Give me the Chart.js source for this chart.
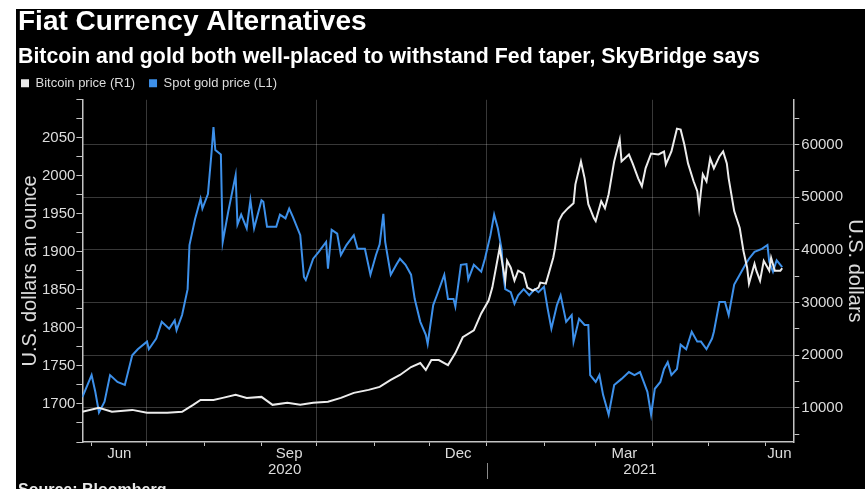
<!DOCTYPE html>
<html>
<head>
<meta charset="utf-8">
<title>Fiat Currency Alternatives</title>
<script src="https://cdn.jsdelivr.net/npm/chart.js@4.4.1/dist/chart.umd.min.js"></script>
<style>
  html, body { margin: 0; padding: 0; background: #fff; overflow: hidden; }
  body { width: 865px; height: 489px; position: relative; }
  #panel { position: absolute; left: 16px; top: 9px; width: 849px; height: 480px; background: #000; }
  #source { position: absolute; left: 18px; top: 482px; color: #e8e8e8; font: bold 16px 'Liberation Sans', Arial, sans-serif; line-height: 16px; }
</style>
</head>
<body>
<div id="panel"><canvas id="chart"></canvas></div>
<div id="source">Source: Bloomberg</div>
<script>
// Rango del eje X
const xStart = '2020-05-27';
const xEnd = '2021-06-16';

// Oro spot (USD por onza), eje izquierdo
const goldDates = [
  '2020-05-27','2020-06-01','2020-06-03','2020-06-05','2020-06-08','2020-06-11','2020-06-15','2020-06-19','2020-06-23','2020-06-26',
  '2020-07-01','2020-07-02','2020-07-06','2020-07-09','2020-07-13','2020-07-16','2020-07-17','2020-07-20','2020-07-23','2020-07-24',
  '2020-07-27','2020-07-30','2020-07-31','2020-08-03','2020-08-05','2020-08-06','2020-08-07','2020-08-10','2020-08-11','2020-08-14',
  '2020-08-18','2020-08-19','2020-08-21','2020-08-24','2020-08-26','2020-08-28','2020-09-01','2020-09-02','2020-09-04','2020-09-09',
  '2020-09-11','2020-09-14','2020-09-16','2020-09-18','2020-09-22','2020-09-24','2020-09-25','2020-09-29','2020-10-02','2020-10-06',
  '2020-10-07','2020-10-09','2020-10-12','2020-10-14','2020-10-17','2020-10-21','2020-10-23','2020-10-27','2020-10-30','2020-11-02',
  '2020-11-04','2020-11-06','2020-11-07','2020-11-10','2020-11-13','2020-11-15','2020-11-18','2020-11-21','2020-11-23','2020-11-26',
  '2020-11-29','2020-11-30','2020-12-03','2020-12-05','2020-12-09','2020-12-11','2020-12-14','2020-12-15','2020-12-18','2020-12-21',
  '2020-12-22','2020-12-25','2020-12-29','2020-12-31','2021-01-03','2021-01-05','2021-01-07','2021-01-09','2021-01-10','2021-01-11',
  '2021-01-14','2021-01-16','2021-01-18','2021-01-21','2021-01-24','2021-01-27','2021-01-29','2021-02-01','2021-02-03','2021-02-05',
  '2021-02-08','2021-02-10','2021-02-13','2021-02-16','2021-02-17','2021-02-20','2021-02-23','2021-02-25','2021-02-26','2021-03-01',
  '2021-03-03','2021-03-05','2021-03-08','2021-03-11','2021-03-15','2021-03-19','2021-03-22','2021-03-25','2021-03-27','2021-03-29',
  '2021-03-31','2021-04-02','2021-04-05','2021-04-07','2021-04-09','2021-04-11','2021-04-14','2021-04-16','2021-04-19','2021-04-22',
  '2021-04-25','2021-04-27','2021-04-30','2021-05-03','2021-05-04','2021-05-07','2021-05-10','2021-05-12','2021-05-15','2021-05-18',
  '2021-05-21','2021-05-23','2021-05-26','2021-05-30','2021-06-02','2021-06-03','2021-06-05','2021-06-07','2021-06-09','2021-06-10'
];
const goldPrice = [
  1709, 1738, 1716, 1689, 1703, 1738, 1729, 1725, 1764, 1772,
  1782, 1772, 1786, 1808, 1799, 1810, 1797, 1817, 1851, 1909,
  1943, 1970, 1957, 1976, 2032, 2064, 2034, 2028, 1913, 1953,
  2001, 1936, 1949, 1931, 1968, 1931, 1968, 1966, 1933, 1933,
  1949, 1944, 1957, 1946, 1922, 1867, 1863, 1891, 1900, 1913,
  1878, 1929, 1924, 1896, 1909, 1922, 1904, 1904, 1870, 1896,
  1910, 1950, 1913, 1870, 1883, 1891, 1883, 1870, 1838, 1808,
  1791, 1779, 1830, 1843, 1870, 1838, 1838, 1828, 1883, 1884,
  1864, 1883, 1874, 1891, 1922, 1949, 1931, 1904, 1870, 1851,
  1847, 1832, 1843, 1851, 1843, 1851, 1847, 1854, 1825, 1799,
  1830, 1843, 1808, 1817, 1782, 1812, 1804, 1804, 1738, 1729,
  1738, 1712, 1686, 1725, 1733, 1742, 1738, 1742, 1729, 1716,
  1686, 1720, 1729, 1746, 1755, 1738, 1746, 1778, 1772, 1795,
  1782, 1782, 1772, 1786, 1795, 1834, 1834, 1817, 1857, 1870,
  1883, 1891, 1900, 1904, 1909, 1887, 1874, 1889, 1883, 1880
];

// Bitcoin (USD), eje derecho
const btcDates = [
  '2020-05-27','2020-06-05','2020-06-12','2020-06-23','2020-07-01','2020-07-12','2020-07-20','2020-07-26','2020-07-30','2020-08-06',
  '2020-08-11','2020-08-18','2020-08-24','2020-09-01','2020-09-07','2020-09-15','2020-09-22','2020-09-29','2020-10-07','2020-10-14',
  '2020-10-21','2020-10-29','2020-11-04','2020-11-10','2020-11-15','2020-11-21','2020-11-26','2020-11-29','2020-12-02','2020-12-06',
  '2020-12-11','2020-12-15','2020-12-19','2020-12-25','2020-12-29','2021-01-02','2021-01-04','2021-01-07','2021-01-08','2021-01-11',
  '2021-01-12','2021-01-14','2021-01-16','2021-01-18','2021-01-21','2021-01-23','2021-01-26','2021-01-29','2021-01-30','2021-02-02',
  '2021-02-04','2021-02-06','2021-02-07','2021-02-09','2021-02-11','2021-02-14','2021-02-17','2021-02-18','2021-02-21','2021-02-23',
  '2021-02-25','2021-02-28','2021-03-01','2021-03-04','2021-03-06','2021-03-08','2021-03-11','2021-03-14','2021-03-15','2021-03-19',
  '2021-03-21','2021-03-24','2021-03-26','2021-03-28','2021-03-31','2021-04-04','2021-04-07','2021-04-08','2021-04-11','2021-04-14',
  '2021-04-16','2021-04-18','2021-04-20','2021-04-23','2021-04-25','2021-04-26','2021-04-28','2021-04-30','2021-05-02','2021-05-04',
  '2021-05-07','2021-05-09','2021-05-11','2021-05-12','2021-05-15','2021-05-18','2021-05-20','2021-05-22','2021-05-23','2021-05-26',
  '2021-05-27','2021-05-29','2021-05-31','2021-06-03','2021-06-04','2021-06-06','2021-06-09','2021-06-10'
];
const btcPrice = [
  9250, 10000, 9250, 9600, 9060, 9060, 9250, 10560, 11500, 11500,
  11880, 12450, 11880, 12070, 10560, 10940, 10560, 10940, 11130, 11880,
  12830, 13400, 13960, 15280, 16230, 17740, 18500, 17170, 19060, 19060,
  18110, 20380, 23400, 24720, 27920, 30380, 32830, 38490, 40380, 34150,
  37920, 36600, 34150, 36040, 35470, 32830, 32260, 32830, 33770, 33580,
  36040, 38490, 40380, 45470, 46790, 47920, 48870, 52450, 56790, 53580,
  48680, 46040, 45470, 49250, 47920, 50570, 56790, 60940, 56790, 58110,
  56420, 53580, 52080, 55470, 58300, 58110, 58680, 56230, 58680, 63020,
  62830, 60000, 56420, 53020, 51130, 47920, 54340, 53020, 57360, 55470,
  57740, 58680, 56420, 53580, 47360, 44150, 39810, 36600, 33580, 37360,
  36040, 34150, 37920, 36040, 38490, 36040, 36040, 36500
];

// Etiquetas de los ejes
const monthTicks = ['2020-06', '2020-09', '2020-12', '2021-03', '2021-06'];
const monthLabels = ['Jun', 'Sep', 'Dec', 'Mar', 'Jun'];
const yearLabels = ['2020', '2021'];
const goldTicks = [1700, 1750, 1800, 1850, 1900, 1950, 2000, 2050];
const btcTicks = [10000, 20000, 30000, 40000, 50000, 60000];
const goldRange = [1650, 2100];
const btcRange = [3500, 68500];

const textColor = '#dcdcdc';
const axisColor = '#c4c4c4';
const gridColor = 'rgba(255,255,255,0.22)';
const font = "'Liberation Sans', Arial, sans-serif";

// Días desde el 1 de enero de 2021
const day = s => (Date.parse(s) - Date.parse('2021-01-01')) / 864e5;
const monthStart = (y, m) => (Date.UTC(y, m, 1) - Date.UTC(2021, 0, 1)) / 864e5;
const xMin = day(xStart);
const xMax = day(xEnd);

// Inicio de cada mes visible (marcas) y trimestres (líneas de rejilla)
const monthGrid = [];
const quarterGrid = [];
for (let i = 0; i < 36; i++) {
  const d = monthStart(2020, i);
  if (d >= xMin && d <= xMax) {
    monthGrid.push(d);
    if (i % 3 === 0) quarterGrid.push(d);
  }
}

// Centro de la parte visible de cada mes / año
const monthPos = monthTicks.map(s => {
  const [y, m] = s.split('-').map(Number);
  return (Math.max(monthStart(y, m - 1), xMin) + Math.min(monthStart(y, m), xMax)) / 2;
});
const yearPos = yearLabels.map(s => (Math.max(monthStart(+s, 0), xMin) + Math.min(monthStart(+s + 1, 0), xMax)) / 2);
const yearBreaks = yearLabels.slice(1).map(s => monthStart(+s, 0));

function steps(min, max, step) {
  const out = [];
  for (let v = min; v <= max; v += step) out.push(v);
  return out;
}
const goldMinor = steps(goldRange[0], goldRange[1], (goldTicks[1] - goldTicks[0]) / 2);
const btcMinor = steps(5000, btcRange[1], (btcTicks[1] - btcTicks[0]) / 2);

// Separador vertical entre años, bajo el eje X
const yearSeparator = {
  id: 'yearSeparator',
  afterDraw(chart) {
    const xs = chart.scales.xYear;
    const ctx = chart.ctx;
    ctx.save();
    ctx.strokeStyle = '#8a8a8a';
    ctx.lineWidth = 1;
    yearBreaks.forEach(v => {
      const px = Math.round(xs.getPixelForValue(v)) + 0.5;
      ctx.beginPath();
      ctx.moveTo(px, xs.top + 2);
      ctx.lineTo(px, xs.bottom);
      ctx.stroke();
    });
    ctx.restore();
  }
};

Chart.defaults.font.family = font;
Chart.defaults.color = textColor;

new Chart(document.getElementById('chart'), {
  type: 'line',
  data: {
    datasets: [{
      label: 'Bitcoin price (R1)',
      data: btcDates.map((d, i) => ({ x: day(d), y: btcPrice[i] })),
      yAxisID: 'yR',
      borderColor: '#ececec',
      backgroundColor: '#ececec',
      borderWidth: 2,
      pointRadius: 0,
      tension: 0
    }, {
      label: 'Spot gold price (L1)',
      data: goldDates.map((d, i) => ({ x: day(d), y: goldPrice[i] })),
      yAxisID: 'yL',
      borderColor: '#3d90ea',
      backgroundColor: '#3d90ea',
      borderWidth: 2,
      pointRadius: 0,
      tension: 0
    }]
  },
  options: {
    responsive: true,
    maintainAspectRatio: false,
    animation: false,
    events: [],
    layout: { padding: { left: 2, right: 0, top: 3, bottom: 10 } },
    plugins: {
      title: {
        display: true, text: 'Fiat Currency Alternatives', align: 'start', color: '#ffffff',
        font: { size: 28, weight: 'bold', lineHeight: 1 }, padding: { top: -4, bottom: 0 }
      },
      subtitle: {
        display: true, text: 'Bitcoin and gold both well-placed to withstand Fed taper, SkyBridge says',
        align: 'start', color: '#ffffff',
        font: { size: 21.3, weight: 'bold', lineHeight: 1 }, padding: { top: 10.5, bottom: 6 }
      },
      legend: {
        display: true, position: 'top', align: 'start',
        labels: {
          color: textColor, boxWidth: 8, boxHeight: 8, padding: 3, font: { size: 13 },
          generateLabels: chart => {
            const items = Chart.defaults.plugins.legend.labels.generateLabels(chart);
            return items.map((l, i) => ({ ...l, lineWidth: 0, text: i < items.length - 1 ? l.text + '   ' : l.text }));
          }
        }
      },
      tooltip: { enabled: false }
    },
    scales: {
      x: {
        type: 'linear', position: 'bottom', min: xMin, max: xMax, weight: 0,
        afterBuildTicks: s => { s.ticks = monthGrid.map(v => ({ value: v })); },
        ticks: { display: false },
        grid: {
          color: c => quarterGrid.includes(c.tick && c.tick.value) ? gridColor : 'transparent',
          tickColor: axisColor, tickLength: 4
        },
        border: { color: axisColor, width: 1.5 }
      },
      xMonth: {
        type: 'linear', position: 'bottom', min: xMin, max: xMax, weight: 1,
        afterBuildTicks: s => { s.ticks = monthPos.map(v => ({ value: v })); },
        ticks: {
          autoSkip: false, maxRotation: 0, padding: 0, color: textColor,
          font: { size: 15, lineHeight: 1 },
          callback: (v, i) => monthLabels[i]
        },
        grid: { display: false, drawTicks: false },
        border: { display: false }
      },
      xYear: {
        type: 'linear', position: 'bottom', min: xMin, max: xMax, weight: 2,
        afterBuildTicks: s => { s.ticks = yearPos.map(v => ({ value: v })); },
        ticks: {
          autoSkip: false, maxRotation: 0, padding: 1.5, color: textColor,
          font: { size: 15, lineHeight: 1 },
          callback: (v, i) => yearLabels[i]
        },
        grid: { display: false, drawTicks: false },
        border: { display: false }
      },
      yL: {
        type: 'linear', position: 'left', min: goldRange[0], max: goldRange[1],
        afterBuildTicks: s => { s.ticks = goldMinor.map(v => ({ value: v })); },
        ticks: {
          autoSkip: false, padding: 1, color: textColor, font: { size: 15 },
          callback: v => goldTicks.includes(v) ? String(v) : ''
        },
        grid: { drawOnChartArea: false, tickLength: 6, tickColor: axisColor },
        border: { color: axisColor, width: 1.5 },
        title: {
          display: true, text: 'U.S. dollars an ounce', color: textColor,
          font: { size: 20, lineHeight: 1 }, padding: { top: 2, bottom: 1 }
        }
      },
      yR: {
        type: 'linear', position: 'right', min: btcRange[0], max: btcRange[1],
        afterBuildTicks: s => { s.ticks = btcMinor.map(v => ({ value: v })); },
        ticks: {
          autoSkip: false, padding: 2, color: textColor, font: { size: 15 },
          callback: v => btcTicks.includes(v) ? String(v) : ''
        },
        grid: {
          color: c => btcTicks.includes(c.tick && c.tick.value) ? gridColor : 'transparent',
          tickLength: 6, tickColor: axisColor
        },
        border: { color: axisColor, width: 1.5 },
        title: {
          display: true, text: 'U.S. dollars', color: textColor,
          font: { size: 20, lineHeight: 1 }, padding: { top: 0, bottom: 0 }
        }
      }
    }
  },
  plugins: [yearSeparator]
});
</script>
</body>
</html>
